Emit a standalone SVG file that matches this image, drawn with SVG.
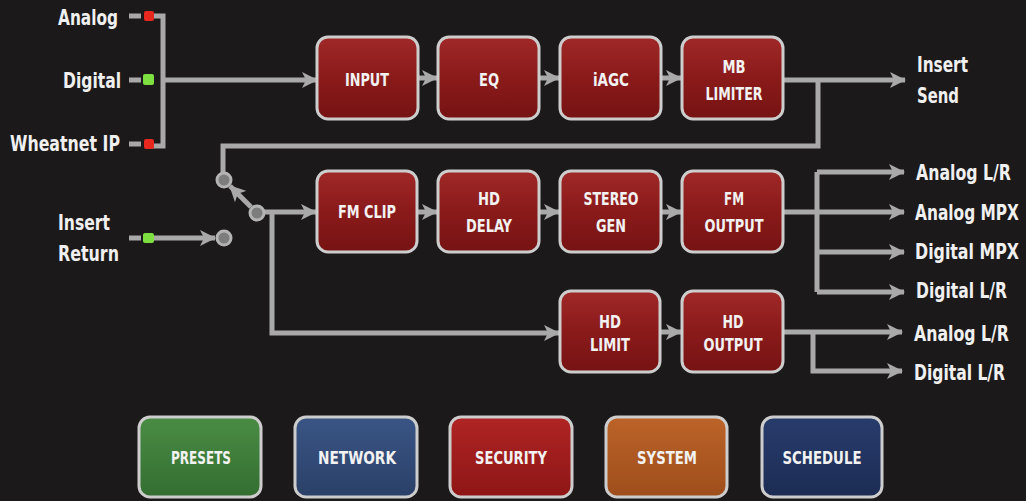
<svg xmlns="http://www.w3.org/2000/svg" width="1026" height="501" viewBox="0 0 1026 501">
<defs>
<linearGradient id="gRed" x1="0" y1="0" x2="0" y2="1"><stop offset="0" stop-color="#a02828"/><stop offset="0.5" stop-color="#8a1a1a"/><stop offset="1" stop-color="#761313"/></linearGradient>
<linearGradient id="gGreen" x1="0" y1="0" x2="0" y2="1"><stop offset="0" stop-color="#4a8c44"/><stop offset="1" stop-color="#336e31"/></linearGradient>
<linearGradient id="gBlue" x1="0" y1="0" x2="0" y2="1"><stop offset="0" stop-color="#3a5585"/><stop offset="1" stop-color="#2a4068"/></linearGradient>
<linearGradient id="gSec" x1="0" y1="0" x2="0" y2="1"><stop offset="0" stop-color="#b02424"/><stop offset="1" stop-color="#8e1616"/></linearGradient>
<linearGradient id="gSys" x1="0" y1="0" x2="0" y2="1"><stop offset="0" stop-color="#bc6328"/><stop offset="1" stop-color="#9e4e1c"/></linearGradient>
<linearGradient id="gNavy" x1="0" y1="0" x2="0" y2="1"><stop offset="0" stop-color="#283c6c"/><stop offset="1" stop-color="#1c2c54"/></linearGradient>
<marker id="arr" viewBox="0 0 16 16" markerWidth="16" markerHeight="16" refX="15" refY="8" orient="auto" markerUnits="userSpaceOnUse"><path d="M0,0 L16,8 L0,16 L4,8 z" fill="#a9a9a9"/></marker>
<style>
.bg{fill:#1c191a}
.box{stroke:#cdcdcd;stroke-width:3}
.red{fill:url(#gRed)}
.bt{font-family:"DejaVu Sans Condensed","Liberation Sans",sans-serif;font-weight:bold;font-size:17px;fill:#f2f2f2;text-anchor:middle}
.lbl{font-family:"DejaVu Sans Condensed","Liberation Sans",sans-serif;font-weight:bold;font-size:21px;fill:#f0f0f0}
.lblR{font-family:"DejaVu Sans Condensed","Liberation Sans",sans-serif;font-weight:bold;font-size:18px;fill:#f0f0f0}
.ln{fill:none;stroke:#a9a9a9;stroke-width:5}
.ar{marker-end:url(#arr)}
.node{fill:#7d7d7d;stroke:#b4b4b4;stroke-width:3}
</style>
</defs>
<rect class="bg" x="0" y="0" width="1026" height="501"/>

<g id="connectors">
<path class="ln" d="M129,16 H141 M129,80 H141 M129,144 H141"/>
<path class="ln" d="M152,16 H163 V146 H152"/>
<path class="ln ar" d="M163,80 H317"/>
<path class="ln ar" d="M418,78 H437"/>
<path class="ln ar" d="M539,78 H559"/>
<path class="ln ar" d="M661,78 H681"/>
<path class="ln ar" d="M783,80 H905"/>
<path class="ln" d="M818,80 V146 H223 V172"/>
<path class="ln ar" d="M251,207 L230,186"/>
<path class="ln ar" d="M264,212 H316"/>
<path class="ln ar" d="M272,212 V333 H559"/>
<path class="ln" d="M129,238 H141"/>
<path class="ln ar" d="M154,238 H215"/>
<path class="ln ar" d="M417,212 H437"/>
<path class="ln ar" d="M539,212 H559"/>
<path class="ln ar" d="M661,212 H681"/>
<path class="ln ar" d="M783,212 H904"/>
<path class="ln" d="M817,172 V292"/>
<path class="ln ar" d="M817,172 H904"/>
<path class="ln ar" d="M817,252 H904"/>
<path class="ln ar" d="M817,292 H904"/>
<path class="ln ar" d="M660,332 H681"/>
<path class="ln ar" d="M783,332 H902"/>
<path class="ln ar" d="M813,332 V371 H902"/>
</g>

<g id="indicators">
<rect x="144" y="11" width="10" height="10" rx="2" fill="#e8281e"/>
<rect x="143" y="74" width="11" height="11" rx="2" fill="#7ee040"/>
<rect x="144" y="139" width="10" height="10" rx="2" fill="#e8281e"/>
<rect x="143" y="233" width="11" height="10" rx="2" fill="#7ee040"/>
<circle class="node" cx="224" cy="180" r="7"/>
<circle class="node" cx="257" cy="213" r="7"/>
<circle class="node" cx="224" cy="238" r="7"/>
</g>

<g id="left-labels">
<text class="lbl" x="118" y="25" text-anchor="end" textLength="60" lengthAdjust="spacingAndGlyphs">Analog</text>
<text class="lbl" x="121" y="88" text-anchor="end" textLength="58" lengthAdjust="spacingAndGlyphs">Digital</text>
<text class="lbl" x="120" y="151" text-anchor="end" textLength="110" lengthAdjust="spacingAndGlyphs">Wheatnet IP</text>
<text class="lbl" x="58" y="230" textLength="52" lengthAdjust="spacingAndGlyphs">Insert</text>
<text class="lbl" x="58" y="261" textLength="61" lengthAdjust="spacingAndGlyphs">Return</text>
</g>

<g id="right-labels">
<g transform="translate(917,72) scale(1,1.17)"><text class="lblR" x="0" y="0" textLength="51" lengthAdjust="spacingAndGlyphs">Insert</text></g>
<g transform="translate(917,103) scale(1,1.17)"><text class="lblR" x="0" y="0" textLength="42" lengthAdjust="spacingAndGlyphs">Send</text></g>
<g transform="translate(916,180) scale(1,1.17)"><text class="lblR" x="0" y="0" textLength="95" lengthAdjust="spacingAndGlyphs">Analog L/R</text></g>
<g transform="translate(915,220) scale(1,1.17)"><text class="lblR" x="0" y="0" textLength="104" lengthAdjust="spacingAndGlyphs">Analog MPX</text></g>
<g transform="translate(915,259) scale(1,1.17)"><text class="lblR" x="0" y="0" textLength="104" lengthAdjust="spacingAndGlyphs">Digital MPX</text></g>
<g transform="translate(916,298) scale(1,1.17)"><text class="lblR" x="0" y="0" textLength="91" lengthAdjust="spacingAndGlyphs">Digital L/R</text></g>
<g transform="translate(914,341) scale(1,1.17)"><text class="lblR" x="0" y="0" textLength="95" lengthAdjust="spacingAndGlyphs">Analog L/R</text></g>
<g transform="translate(914,380) scale(1,1.17)"><text class="lblR" x="0" y="0" textLength="91" lengthAdjust="spacingAndGlyphs">Digital L/R</text></g>
</g>

<g id="n-input"><rect class="box red" x="317" y="37" width="101" height="82" rx="11"/><text class="bt" x="367" y="86" textLength="44" lengthAdjust="spacingAndGlyphs">INPUT</text></g>
<g id="n-eq"><rect class="box red" x="438" y="37" width="101" height="82" rx="11"/><text class="bt" x="489" y="86" textLength="20" lengthAdjust="spacingAndGlyphs">EQ</text></g>
<g id="n-iagc"><rect class="box red" x="560" y="37" width="101" height="82" rx="11"/><text class="bt" x="611" y="86" textLength="36" lengthAdjust="spacingAndGlyphs">iAGC</text></g>
<g id="n-mblimiter"><rect class="box red" x="682" y="37" width="101" height="82" rx="11"/><text class="bt" x="734" y="73" textLength="23" lengthAdjust="spacingAndGlyphs">MB</text><text class="bt" x="734" y="100" textLength="57" lengthAdjust="spacingAndGlyphs">LIMITER</text></g>

<g id="n-fmclip"><rect class="box red" x="317" y="171" width="100" height="81" rx="11"/><text class="bt" x="367" y="218" textLength="58" lengthAdjust="spacingAndGlyphs">FM CLIP</text></g>
<g id="n-hddelay"><rect class="box red" x="438" y="171" width="101" height="81" rx="11"/><text class="bt" x="489" y="205" textLength="22" lengthAdjust="spacingAndGlyphs">HD</text><text class="bt" x="489" y="232" textLength="46" lengthAdjust="spacingAndGlyphs">DELAY</text></g>
<g id="n-stereogen"><rect class="box red" x="560" y="171" width="101" height="81" rx="11"/><text class="bt" x="611" y="205" textLength="55" lengthAdjust="spacingAndGlyphs">STEREO</text><text class="bt" x="611" y="232" textLength="30" lengthAdjust="spacingAndGlyphs">GEN</text></g>
<g id="n-fmoutput"><rect class="box red" x="682" y="171" width="101" height="81" rx="11"/><text class="bt" x="734" y="205" textLength="20" lengthAdjust="spacingAndGlyphs">FM</text><text class="bt" x="734" y="232" textLength="59" lengthAdjust="spacingAndGlyphs">OUTPUT</text></g>

<g id="n-hdlimit"><rect class="box red" x="560" y="291" width="100" height="81" rx="11"/><text class="bt" x="610" y="328" textLength="22" lengthAdjust="spacingAndGlyphs">HD</text><text class="bt" x="610" y="351" textLength="40" lengthAdjust="spacingAndGlyphs">LIMIT</text></g>
<g id="n-hdoutput"><rect class="box red" x="682" y="291" width="101" height="81" rx="11"/><text class="bt" x="733" y="328" textLength="21" lengthAdjust="spacingAndGlyphs">HD</text><text class="bt" x="733" y="351" textLength="59" lengthAdjust="spacingAndGlyphs">OUTPUT</text></g>

<g id="b-presets"><rect class="box" fill="url(#gGreen)" x="139" y="417" width="122" height="80" rx="11"/><text class="bt" x="201" y="464" textLength="60" lengthAdjust="spacingAndGlyphs">PRESETS</text></g>
<g id="b-network"><rect class="box" fill="url(#gBlue)" x="295" y="417" width="122" height="80" rx="11"/><text class="bt" x="357" y="464" textLength="78" lengthAdjust="spacingAndGlyphs">NETWORK</text></g>
<g id="b-security"><rect class="box" fill="url(#gSec)" x="450" y="417" width="122" height="80" rx="11"/><text class="bt" x="511" y="464" textLength="72" lengthAdjust="spacingAndGlyphs">SECURITY</text></g>
<g id="b-system"><rect class="box" fill="url(#gSys)" x="606" y="417" width="121" height="80" rx="11"/><text class="bt" x="667" y="464" textLength="60" lengthAdjust="spacingAndGlyphs">SYSTEM</text></g>
<g id="b-schedule"><rect class="box" fill="url(#gNavy)" x="762" y="417" width="120" height="80" rx="11"/><text class="bt" x="822" y="464" textLength="79" lengthAdjust="spacingAndGlyphs">SCHEDULE</text></g>
</svg>
